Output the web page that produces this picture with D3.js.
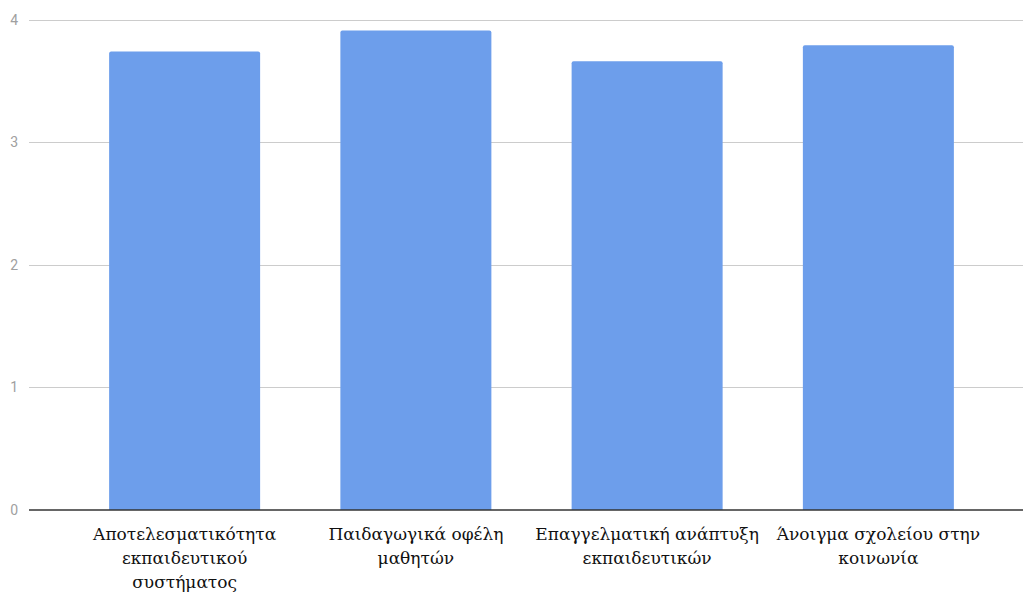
<!DOCTYPE html>
<html>
<head>
<meta charset="utf-8">
<script src="https://cdn.jsdelivr.net/npm/d3@7"></script>
<style>
  html, body { margin: 0; padding: 0; background: #fff; }
  svg { display: block; }
</style>
</head>
<body>
<svg id="chart" width="1023" height="592"></svg>
<script>
// Category names (line breaks mark where each label wraps)
const categories = [
  "Αποτελεσματικότητα\nεκπαιδευτικού\nσυστήματος",
  "Παιδαγωγικά οφέλη\nμαθητών",
  "Επαγγελματική ανάπτυξη\nεκπαιδευτικών",
  "Άνοιγμα σχολείου στην\nκοινωνία"
];
// Mean score per category
const values = [3.74, 3.91, 3.66, 3.79];
// Y axis ticks
const yTicks = [0, 1, 2, 3, 4];

const svg = d3.select("#chart");
const gridLeft = 29, gridRight = 1023;

const x = d3.scaleBand()
  .domain(categories)
  .range([69, 994])
  .paddingInner(0.347)
  .paddingOuter(0.1735);

const y = d3.scaleLinear()
  .domain([0, 4])
  .range([510, 19.5]);

// Horizontal gridlines
svg.append("g")
  .selectAll("line")
  .data(yTicks.filter(d => d !== 0))
  .join("line")
  .attr("x1", gridLeft)
  .attr("x2", gridRight)
  .attr("y1", d => Math.round(y(d)) + 0.5)
  .attr("y2", d => Math.round(y(d)) + 0.5)
  .attr("stroke", "#cccccc")
  .attr("stroke-width", 1);

// Y tick labels
svg.append("g")
  .selectAll("text")
  .data(yTicks)
  .join("text")
  .attr("x", 18)
  .attr("y", d => y(d))
  .attr("dy", "0.36em")
  .attr("text-anchor", "end")
  .attr("font-family", "Roboto, 'Noto Sans', sans-serif")
  .attr("font-size", 14)
  .attr("fill", "#a0a0a0")
  .text(d => d);

// Bars with slightly rounded top corners
function barPath(x0, w, yTop, yBase, r) {
  return `M${x0},${yBase}V${yTop + r}Q${x0},${yTop} ${x0 + r},${yTop}` +
         `H${x0 + w - r}Q${x0 + w},${yTop} ${x0 + w},${yTop + r}V${yBase}Z`;
}

svg.append("g")
  .selectAll("path")
  .data(categories.map((c, i) => ({ c, v: values[i] })))
  .join("path")
  .attr("d", d => barPath(x(d.c), x.bandwidth(), y(d.v), y(0), 2))
  .attr("fill", "#6d9eeb");

// Baseline
svg.append("line")
  .attr("x1", gridLeft)
  .attr("x2", gridRight)
  .attr("y1", y(0))
  .attr("y2", y(0))
  .attr("stroke", "#333333")
  .attr("stroke-width", 1.5);

// Category labels
const labels = svg.append("g")
  .selectAll("text")
  .data(categories)
  .join("text")
  .attr("x", d => x(d) + x.bandwidth() / 2)
  .attr("y", 540)
  .attr("text-anchor", "middle")
  .attr("font-family", "'DejaVu Serif', 'Liberation Serif', serif")
  .attr("font-size", 17)
  .attr("fill", "#111111");

labels.each(function(d) {
  const t = d3.select(this);
  d.split("\n").forEach((line, i) => {
    t.append("tspan")
      .attr("x", x(d) + x.bandwidth() / 2)
      .attr("dy", i === 0 ? 0 : 24)
      .text(line);
  });
});
</script>
</body>
</html>
